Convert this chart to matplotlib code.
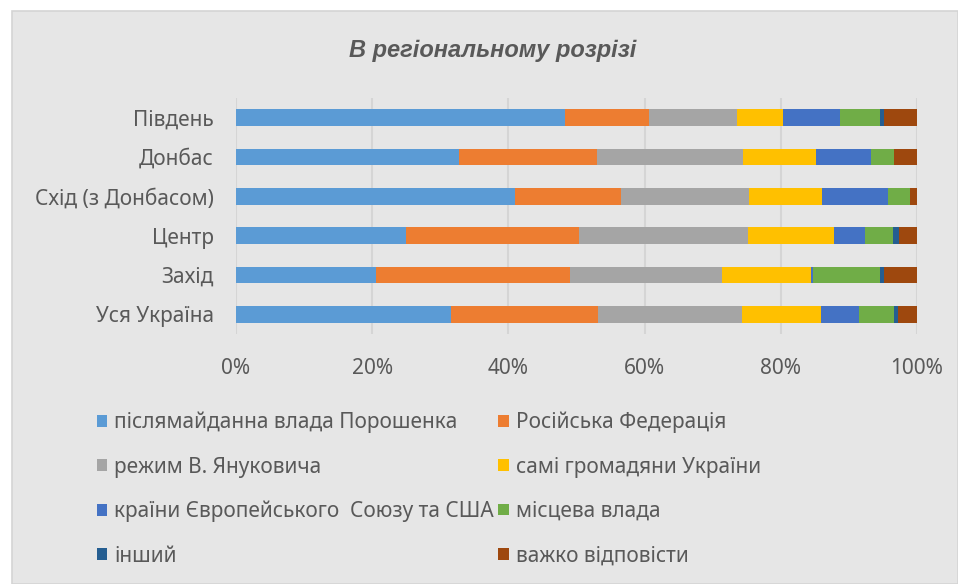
import matplotlib
matplotlib.use("Agg")
import matplotlib.pyplot as plt
from matplotlib.patches import Rectangle, Patch
import numpy as np

plt.rcParams['font.family'] = ['Noto Sans', 'DejaVu Sans']

categories = ["Уся Україна", "Захід", "Центр", "Схід (з Донбасом)", "Донбас", "Південь"]
series_names = ["післямайданна влада Порошенка", "Російська Федерація",
                "режим В. Януковича", "самі громадяни України",
                "країни Європейського  Союзу та США", "місцева влада",
                "інший", "важко відповісти"]
colors = ["#5B9BD5", "#ED7D31", "#A5A5A5", "#FFC000", "#4472C4", "#70AD47", "#255E91", "#9E480E"]

poroshenko = [31.6, 20.5, 25.0, 41.0, 32.7, 48.3]
russia     = [21.6, 28.5, 25.4, 15.6, 20.3, 12.4]
yanukovych = [21.1, 22.3, 24.8, 18.8, 21.5, 12.8]
citizens   = [11.6, 13.1, 12.6, 10.7, 10.7, 6.8]
eu_usa     = [5.6, 0.4, 4.6, 9.6, 8.1, 8.4]
local      = [5.1, 9.8, 4.1, 3.2, 3.3, 5.9]
other      = [0.6, 0.5, 0.9, 0.0, 0.0, 0.5]
hard       = [2.8, 4.9, 2.6, 1.1, 3.4, 4.9]
xticks = [0, 20, 40, 60, 80, 100]
xticklabels = ["0%", "20%", "40%", "60%", "80%", "100%"]

series = [poroshenko, russia, yanukovych, citizens, eu_usa, local, other, hard]

W, H = 958, 584
fig = plt.figure(figsize=(W/100, H/100), dpi=100, facecolor="white")
bg = "#E6E6E6"
fig.patches.append(Rectangle((12/W, 0), 1 - 12/W, 1 - 11/H, transform=fig.transFigure,
                             facecolor=bg, edgecolor="#D4D4D4", lw=1.2, zorder=-1))

ax = fig.add_axes([236/W, 1 - 334/H, (917-236)/W, (334-98)/H])
ax.set_facecolor("none")

y = np.arange(len(categories))
data = np.array(series, dtype=float)
totals = data.sum(axis=0)
pct = data / totals * 100
left = np.zeros(len(categories))
handles = []
for name, vals, c in zip(series_names, pct, colors):
    ax.barh(y, vals, left=left, height=0.43, color=c, zorder=3)
    left += vals
    handles.append(Patch(facecolor=c, label=name))

ax.set_xlim(0, 100)
ax.set_ylim(-0.5, len(categories) - 0.5)
ax.set_yticks(y)
ax.set_yticklabels(categories)
ax.set_xticks(xticks)
ax.set_xticklabels(xticklabels)
for s in ax.spines.values():
    s.set_visible(False)
ax.grid(axis="x", color="#D5D5D5", lw=1.5, zorder=0)
ax.tick_params(axis="both", length=0, colors="#595959", labelsize=15)
ax.tick_params(axis="x", pad=17)
ax.tick_params(axis="y", pad=16)

fig.text(493/W, 1 - 50/H, "В регіональному розрізі", ha="center", va="center",
         fontsize=17, fontweight="bold", fontstyle="italic", color="#595959",
         family=["Liberation Sans", "DejaVu Sans"])

order = [0, 2, 4, 6, 1, 3, 5, 7]
leg = fig.legend([handles[i] for i in order], [series_names[i] for i in order],
                 ncol=2, loc="upper left", bbox_to_anchor=(78/W, 1 - 393/H),
                 frameon=False, fontsize=15, labelcolor="#595959",
                 handlelength=0.5, handleheight=0.5, handletextpad=0.35,
                 columnspacing=0.2, labelspacing=1.12)

fig.savefig("out.png", dpi=100, facecolor="white")
